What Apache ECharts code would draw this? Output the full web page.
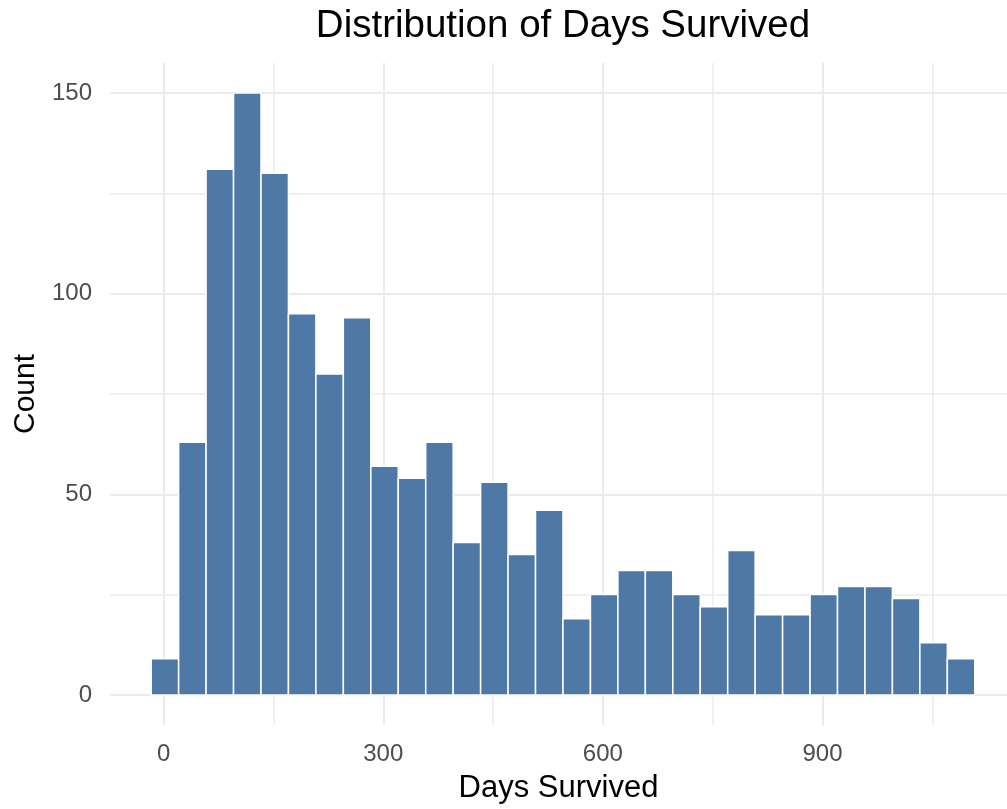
<!DOCTYPE html>
<html>
<head>
<meta charset="utf-8">
<script src="https://cdn.jsdelivr.net/npm/echarts@6/dist/echarts.min.js"></script>
<style>
  html, body { margin: 0; padding: 0; background: #ffffff; }
  #chart { width: 1007px; height: 809px; }
</style>
</head>
<body>
<div id="chart"></div>
<script>
// ---- data ----
const chartTitle = 'Distribution of Days Survived';
const xTitle = 'Days Survived';
const yTitle = 'Count';
const binStart = -17;      // left edge of the first bin (days)
const binWidth = 37.5;     // width of each bin (days)
const counts = [9, 63, 131, 150, 130, 95, 80, 94, 57, 54, 63, 38, 53, 35, 46,
                19, 25, 31, 31, 25, 22, 36, 20, 20, 25, 27, 27, 24, 13, 9];
const xTicks = [0, 300, 600, 900];
const xMinorTicks = [150, 450, 750, 1050];
const yTicks = [0, 50, 100, 150];
const yMinorTicks = [25, 75, 125];
const xViewMax = 1152;     // the reference picture cuts the panel off at about this many days

// ---- build ----
const bins = counts.map((c, i) => [binStart + i * binWidth, binStart + (i + 1) * binWidth, c]);
const xLo = bins[0][0], xHi = bins[bins.length - 1][1];
const xPad = (xHi - xLo) * 0.05;
const yMaxData = Math.max(...counts);
const yPad = yMaxData * 0.05;

const FONT = '"Liberation Sans", Arial, Helvetica, sans-serif';
const GRID = '#EBEBEB';

const chart = echarts.init(document.getElementById('chart'), null, { renderer: 'canvas' });

chart.setOption({
  backgroundColor: '#ffffff',
  animation: false,
  title: {
    text: chartTitle,
    left: 563,
    top: 7,
    padding: 0,
    textAlign: 'center',
    textStyle: { fontFamily: FONT, fontSize: 38.5, fontWeight: 'normal', color: '#000000' }
  },
  grid: { left: 110, right: 0, top: 63, bottom: 81, containLabel: false },
  xAxis: [
    {
      type: 'value',
      min: xLo - xPad,
      max: xViewMax,
      position: 'bottom',
      name: xTitle,
      nameLocation: 'middle',
      nameGap: 48,
      nameTextStyle: { fontFamily: FONT, fontSize: 31, color: '#000000', padding: [0, 0, 0, 0] },
      axisLine: { show: false },
      axisTick: { show: false, customValues: xTicks },
      axisLabel: {
        customValues: xTicks,
        margin: 17,
        fontFamily: FONT, fontSize: 24, color: '#4D4D4D'
      },
      splitLine: { show: true, lineStyle: { color: GRID, width: 2 } }
    },
    {
      type: 'value',
      min: xLo - xPad,
      max: xViewMax,
      position: 'top',
      axisLine: { show: false },
      axisTick: { show: false, customValues: xMinorTicks },
      axisLabel: { show: false, customValues: xMinorTicks },
      splitLine: { show: true, lineStyle: { color: GRID, width: 1.5 } }
    }
  ],
  yAxis: [
    {
      type: 'value',
      min: -yPad,
      max: yMaxData + yPad,
      position: 'left',
      name: yTitle,
      nameLocation: 'middle',
      nameRotate: 90,
      nameGap: 68,
      nameTextStyle: { fontFamily: FONT, fontSize: 30, color: '#000000' },
      axisLine: { show: false },
      axisTick: { show: false, customValues: yTicks },
      axisLabel: {
        customValues: yTicks,
        margin: 18,
        fontFamily: FONT, fontSize: 24, color: '#4D4D4D',
        padding: [4, 0, 0, 0]
      },
      splitLine: { show: true, lineStyle: { color: GRID, width: 2 } }
    },
    {
      type: 'value',
      min: -yPad,
      max: yMaxData + yPad,
      position: 'right',
      axisLine: { show: false },
      axisTick: { show: false, customValues: yMinorTicks },
      axisLabel: { show: false, customValues: yMinorTicks },
      splitLine: { show: true, lineStyle: { color: GRID, width: 1.5 } }
    }
  ],
  series: [{
    type: 'custom',
    xAxisIndex: 0,
    yAxisIndex: 0,
    encode: { x: [0, 1], y: 2 },
    data: bins,
    renderItem: function (params, api) {
      const p0 = api.coord([api.value(0), api.value(2)]);
      const p1 = api.coord([api.value(1), 0]);
      return {
        type: 'rect',
        shape: { x: p0[0], y: p0[1], width: p1[0] - p0[0], height: p1[1] - p0[1] },
        style: { fill: '#4E79A7', stroke: '#ffffff', lineWidth: 1.5 }
      };
    }
  }]
});
</script>
</body>
</html>
